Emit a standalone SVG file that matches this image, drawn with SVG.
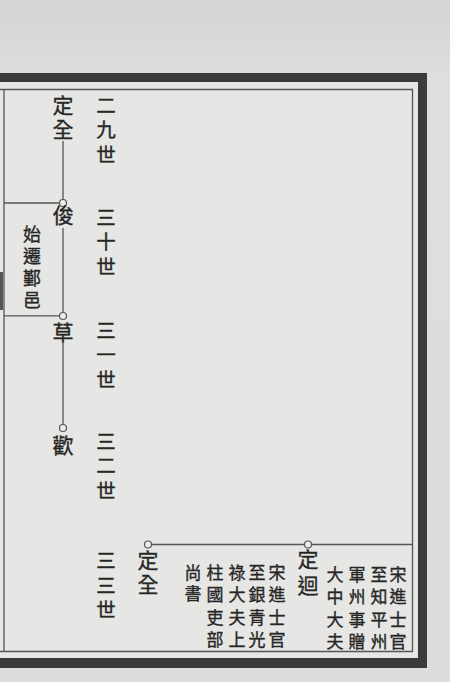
<svg xmlns="http://www.w3.org/2000/svg" width="450" height="682" viewBox="0 0 450 682">
<defs>
<style>
text{font-family:"Noto Sans CJK TC","Noto Sans CJK SC",sans-serif;fill:#262626;stroke:#262626;stroke-width:0.35;writing-mode:vertical-rl;text-anchor:start}
.gen{font-size:19.5px;letter-spacing:5px}
.name{font-size:21px;letter-spacing:3.5px}
.note{font-size:17px;letter-spacing:5.5px}
.box{font-size:18px;letter-spacing:4px}
.ln{stroke:#555;stroke-width:1.3;fill:none}
.dot{stroke:#555;stroke-width:1.2;fill:#ececea}
.frame{fill:#3b3b3b}
</style>
<linearGradient id="bg" x1="0" y1="0" x2="0" y2="1">
<stop offset="0" stop-color="#d4d4d2"/>
<stop offset="0.12" stop-color="#dededc"/>
<stop offset="1" stop-color="#dcdcda"/>
</linearGradient>
</defs>
<rect x="0" y="0" width="450" height="682" fill="url(#bg)"/>
<rect x="0" y="82" width="418" height="576" fill="#e6e6e4"/>
<g id="frame">
<rect class="frame" x="0" y="73" width="427" height="9"/>
<rect class="frame" x="418" y="73" width="9" height="595"/>
<rect class="frame" x="0" y="658" width="427" height="10"/>
<rect x="0" y="272" width="3" height="38" fill="#555"/>
<path class="ln" d="M0 89.5H412.5V651.5H0M4 89.5V651.5"/>
</g>
<g id="connectors">
<path class="ln" d="M63 141V199.5M63 228V312.5M63 343V424.5M4 203H59.5M4 315.8H59.5M151.5 544.5H304.5M311.5 544.5H412.5"/>
</g>
<g id="generations">
<text class="gen" x="106" y="95.5">二九世</text>
<text class="gen" x="106" y="207.5">三十世</text>
<text class="gen" x="106" y="320.5">三一世</text>
<text class="gen" x="106" y="431.5">三二世</text>
<text class="gen" x="106" y="551">三三世</text>
</g>
<g id="node-dingquan-top">
<text class="name" x="63" y="94.5">定全</text>
</g>
<g id="node-jun">
<circle class="dot" cx="63" cy="203" r="3.5"/>
<text class="name" x="63" y="205">俊</text>
</g>
<g id="node-migration-box">
<text class="box" x="32" y="225">始遷鄞邑</text>
</g>
<g id="node-cao">
<circle class="dot" cx="63" cy="316" r="3.5"/>
<text class="name" x="63" y="322">草</text>
</g>
<g id="node-huan">
<circle class="dot" cx="63" cy="428" r="3.5"/>
<text class="name" x="63" y="435">歡</text>
</g>
<g id="node-dingquan-bottom">
<circle class="dot" cx="148" cy="544.5" r="3.5"/>
<text class="name" x="148" y="549.5">定全</text>
<text class="note" x="277" y="564">宋進士官</text>
<text class="note" x="257" y="564">至銀青光</text>
<text class="note" x="237" y="564">祿大夫上</text>
<text class="note" x="215" y="564">柱國吏部</text>
<text class="note" x="193" y="564" style="letter-spacing:4px">尚書</text>
</g>
<g id="node-dingjiong">
<circle class="dot" cx="308" cy="544.5" r="3.5"/>
<text class="name" x="308" y="549" style="letter-spacing:5px">定迴</text>
<text class="note" x="398" y="566">宋進士官</text>
<text class="note" x="379" y="566">至知平州</text>
<text class="note" x="357" y="566">軍州事贈</text>
<text class="note" x="335" y="566">大中大夫</text>
</g>
</svg>
